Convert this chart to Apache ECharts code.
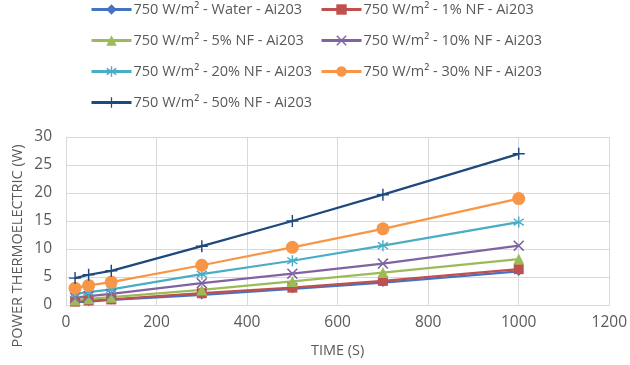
<!DOCTYPE html>
<html><head><meta charset="utf-8">
<script src="https://cdn.jsdelivr.net/npm/echarts@6/dist/echarts.min.js"></script>
<style>html,body{margin:0;padding:0;background:#fff}#c{width:630px;height:365px}</style>
</head><body><div id="c"></div>
<script>
const times = [20, 50, 100, 300, 500, 700, 1000];
const seriesNames = [
  '750 W/m² - Water - Ai203',
  '750 W/m² - 1% NF - Ai203',
  '750 W/m² - 5% NF - Ai203',
  '750 W/m² - 10% NF - Ai203',
  '750 W/m² - 20% NF - Ai203',
  '750 W/m² - 30% NF - Ai203',
  '750 W/m² - 50% NF - Ai203'
];
const water = [0.5, 0.6, 0.9, 1.8, 2.9, 4.0, 6.0];
const nf1 = [0.6, 0.8, 1.0, 2.1, 3.1, 4.3, 6.4];
const nf5 = [0.9, 1.1, 1.4, 2.7, 4.2, 5.8, 8.2];
const nf10 = [1.3, 1.6, 2.0, 3.9, 5.6, 7.4, 10.6];
const nf20 = [2.0, 2.3, 2.8, 5.5, 7.9, 10.6, 14.8];
const nf30 = [3.0, 3.5, 4.1, 7.1, 10.3, 13.6, 19.0];
const nf50 = [4.8, 5.4, 6.1, 10.5, 15.0, 19.7, 27.0];
const xTicks = [0, 200, 400, 600, 800, 1000, 1200];
const yTicks = [0, 5, 10, 15, 20, 25, 30];

const allData = [water, nf1, nf5, nf10, nf20, nf30, nf50];
const colors = ['#4472C4', '#C0504D', '#9BBB59', '#8064A2', '#4BACC6', '#F79646', '#1F497D'];
const symbols = [
  'diamond', 'rect', 'triangle',
  'path://M1,0L5,4L9,0L10,1L6,5L10,9L9,10L5,6L1,10L0,9L4,5L0,1Z',
  'path://M4.4,0H5.6V3.9L8.9,1.5L9.6,2.5L6.3,5L9.6,7.5L8.9,8.5L5.6,6.1V10H4.4V6.1L1.1,8.5L0.4,7.5L3.7,5L0.4,2.5L1.1,1.5L4.4,3.9Z',
  'circle',
  'path://M4.4,0H5.6V4.4H10V5.6H5.6V10H4.4V5.6H0V4.4H4.4Z'
];
const sizes = [9, 10, 11, 11, 11, 13, 12];

const font = 'Open Sans, Liberation Sans, sans-serif';
const legendPos = [[90, 2], [320, 2], [90, 33], [320, 33], [90, 64], [320, 64], [90, 95]];

const chart = echarts.init(document.getElementById('c'), null, {renderer: 'canvas'});
chart.setOption({
  animation: false,
  color: colors,
  legend: seriesNames.map((n, i) => ({
    data: [n], left: legendPos[i][0], top: legendPos[i][1],
    itemWidth: 40, itemHeight: 13, itemGap: 0, padding: 0,
    itemStyle: {},
    lineStyle: {width: 3},
    textStyle: {fontFamily: font, fontSize: 14.5, color: '#595959', padding: [0, 0, 0, -3]}
  })),
  grid: {left: 66, right: 20, top: 137, bottom: 60},
  xAxis: {
    type: 'value', min: 0, max: 1200, interval: 200,
    name: 'TIME (S)', nameLocation: 'middle', nameGap: 38,
    nameTextStyle: {fontFamily: font, fontSize: 14.5, color: '#595959'},
    axisLine: {show: true, lineStyle: {color: '#D9D9D9'}},
    axisTick: {show: false},
    axisLabel: {fontFamily: font, fontSize: 15.5, color: '#595959', margin: 10, formatter: v => String(v)},
    splitLine: {show: true, lineStyle: {color: '#D9D9D9'}}
  },
  yAxis: {
    type: 'value', min: 0, max: 30, interval: 5,
    axisLine: {show: true, lineStyle: {color: '#D9D9D9'}},
    axisTick: {show: false},
    axisLabel: {fontFamily: font, fontSize: 15.5, color: '#595959', margin: 14, formatter: v => String(v)},
    splitLine: {show: true, lineStyle: {color: '#D9D9D9'}}
  },
  graphic: [{
    type: 'text', x: 18, y: 246, rotation: Math.PI / 2,
    style: {text: 'POWER THERMOELECTRIC (W)', fontFamily: font, fontSize: 14.5, fill: '#595959', align: 'center', verticalAlign: 'middle'}
  }],
  series: allData.map((d, i) => ({
    name: seriesNames[i], type: 'line',
    data: times.map((t, j) => [t, d[j]]),
    symbol: symbols[i], symbolSize: sizes[i], showSymbol: true,
    lineStyle: {width: 2.25, color: colors[i]},
    itemStyle: {color: colors[i]}
  }))
});
</script></body></html>
